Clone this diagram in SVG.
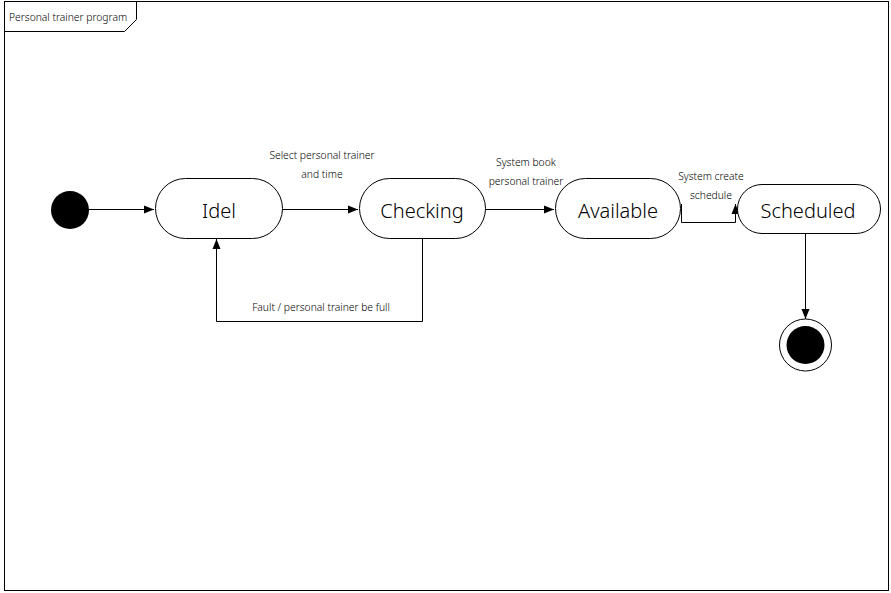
<svg xmlns="http://www.w3.org/2000/svg" width="891" height="593" viewBox="0 0 891 593">
<defs>
<marker id="arr" viewBox="0 0 10 10" refX="10" refY="5" markerWidth="10" markerHeight="10" markerUnits="userSpaceOnUse" orient="auto">
<path d="M0,1 L10,5 L0,9 Z" fill="#000"/>
</marker>
</defs>
<style>
.frame{fill:#fff;stroke:#000;stroke-width:1}
.state{fill:#fff;stroke:#000;stroke-width:1}
.name{font-family:"Noto Sans","DejaVu Sans",sans-serif;font-size:20px;font-weight:300;text-anchor:middle;fill:#000}
.lbl{font-family:"Noto Sans","DejaVu Sans",sans-serif;font-size:10.3px;font-weight:300;text-anchor:middle;fill:#000}
.edge{fill:none;stroke:#000;stroke-width:1;marker-end:url(#arr)}
</style>
<rect x="0" y="0" width="891" height="593" fill="#fff"/>
<g id="frame">
<rect class="frame" x="4.5" y="1.5" width="884" height="589"/>
<path d="M4.5,31.5 L124.5,31.5 L136.5,19.5 L136.5,1.5" fill="none" stroke="#000"/>
<text x="9" y="21" font-family="'Noto Sans','DejaVu Sans',sans-serif" font-size="10.3px" font-weight="300" fill="#000">Personal trainer program</text>
</g>
<g id="connectors">
<line class="edge" x1="89" y1="209.5" x2="154" y2="209.5"/>
<line class="edge" x1="282" y1="209.5" x2="358" y2="209.5"/>
<line class="edge" x1="485" y1="209.5" x2="554" y2="209.5"/>
<polyline class="edge" points="681.5,204 681.5,222.5 735.5,222.5 735.5,204"/>
<polyline class="edge" points="422.5,238 422.5,321.5 216.5,321.5 216.5,239"/>
<line class="edge" x1="805.5" y1="233" x2="805.5" y2="319"/>
<text class="lbl" x="322" y="159">Select personal trainer</text>
<text class="lbl" x="322" y="178">and time</text>
<text class="lbl" x="526" y="166">System book</text>
<text class="lbl" x="526" y="185">personal trainer</text>
<text class="lbl" x="711" y="180">System create</text>
<text class="lbl" x="711" y="199">schedule</text>
<text class="lbl" x="321" y="311">Fault / personal trainer be full</text>
</g>
<g id="initial">
<circle cx="70" cy="210" r="19" fill="#000"/>
</g>
<g id="idel">
<rect class="state" x="155.5" y="178.5" width="127" height="60" rx="30" ry="30"/>
<text class="name" x="219" y="218">Idel</text>
</g>
<g id="checking">
<rect class="state" x="359.5" y="178.5" width="126" height="60" rx="30" ry="30"/>
<text class="name" x="422" y="218">Checking</text>
</g>
<g id="available">
<rect class="state" x="555.5" y="178.5" width="125" height="60" rx="30" ry="30"/>
<text class="name" x="618" y="218">Available</text>
</g>
<g id="scheduled">
<rect class="state" x="737.5" y="184.5" width="143" height="49" rx="24.5" ry="24.5"/>
<text class="name" x="808" y="218">Scheduled</text>
</g>
<g id="final">
<circle cx="805.5" cy="345" r="26" fill="#fff" stroke="#000" stroke-width="1"/>
<circle cx="805.5" cy="345" r="19" fill="#000"/>
</g>
</svg>
